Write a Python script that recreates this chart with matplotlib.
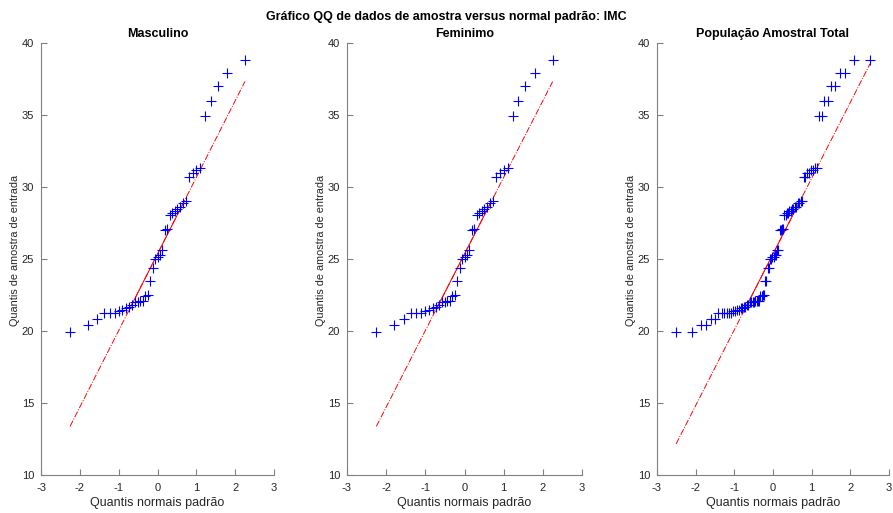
import numpy as np
import matplotlib
matplotlib.use('Agg')
import matplotlib.pyplot as plt
from statistics import NormalDist

## DATA (IMC, sorted sample values)

imc_masculino = [19.9, 20.4, 20.8, 21.25, 21.25, 21.25, 21.4, 21.45, 21.6, 21.65,
                 21.8, 22.0, 22.0, 22.05, 22.1, 22.4, 22.5, 23.5, 24.35, 25.0,
                 25.15, 25.3, 25.65, 27.0, 27.1, 28.05, 28.2, 28.3, 28.45, 28.6,
                 28.9, 29.05, 30.7, 31.0, 31.2, 31.35, 34.9, 36.0, 37.0, 37.9, 38.8]
imc_feminino = [19.9, 20.4, 20.8, 21.25, 21.25, 21.25, 21.4, 21.45, 21.6, 21.65,
                21.8, 22.0, 22.0, 22.05, 22.1, 22.4, 22.5, 23.5, 24.35, 25.0,
                25.15, 25.3, 25.65, 27.0, 27.1, 28.05, 28.2, 28.3, 28.45, 28.6,
                28.9, 29.05, 30.7, 31.0, 31.2, 31.35, 34.9, 36.0, 37.0, 37.9, 38.8]
imc_total = imc_masculino + imc_feminino

titulos = ['Masculino', 'Feminimo', 'População Amostral Total']
suptitulo = 'Gráfico QQ de dados de amostra versus normal padrão: IMC'
xlabel = 'Quantis normais padrão'
ylabel = 'Quantis de amostra de entrada'

plt.rcParams['font.family'] = ['Liberation Sans', 'DejaVu Sans']
plt.rcParams['axes.unicode_minus'] = False

TXT = '#262626'
AX = '#808080'


def qq_plot(ax, sample, title):
    """MATLAB-style qqplot: sorted data vs standard normal quantiles + quartile line."""
    y = np.sort(np.asarray(sample, dtype=float))
    n = len(y)
    nd = NormalDist()
    x = np.array([nd.inv_cdf((i - 0.5) / n) for i in range(1, n + 1)])

    # line through first and third quartiles
    q1, q3 = np.percentile(y, [25, 75], method='hazen')
    x1, x3 = nd.inv_cdf(0.25), nd.inv_cdf(0.75)
    slope = (q3 - q1) / (x3 - x1)
    xe = np.array([x[0], x[-1]])
    ax.plot(xe, q1 + slope * (xe - x1), color='red', ls='-.', lw=0.7, zorder=1)
    xs = np.array([x1, x3])
    ax.plot(xs, q1 + slope * (xs - x1), color='red', ls='-', lw=0.7, zorder=1)

    ax.plot(x, y, '+', color='blue', ms=7, mew=0.8, zorder=2)

    # appearance
    ax.set_xlim(-3, 3)
    ax.set_ylim(10, 40)
    ax.set_xticks(range(-3, 4))
    ax.set_yticks(range(10, 41, 5))
    for s in ['top', 'right']:
        ax.spines[s].set_visible(False)
    for s in ['left', 'bottom']:
        ax.spines[s].set_color(AX)
        ax.spines[s].set_linewidth(0.8)
    ax.tick_params(direction='in', length=4, width=0.8, color=AX,
                   labelsize=8, labelcolor=TXT)
    ax.tick_params(axis='x', pad=6)
    ax.tick_params(axis='y', pad=5)
    ax.set_title(title, fontsize=9, fontweight='bold', color='black', pad=4)
    ax.set_xlabel(xlabel, fontsize=9, color=TXT)
    ax.set_ylabel(ylabel, fontsize=7.8, color=TXT)
    w = ax.get_position().width * 893
    ax.xaxis.set_label_coords(0.5, -22 / 432)
    ax.yaxis.set_label_coords(-21 / w, 0.52)


fig = plt.figure(figsize=(8.93, 5.13), dpi=100)
lefts = [41, 347, 657]
widths = [233, 235, 232]
axes = [fig.add_axes([l / 893, 38 / 513, w / 893, 432 / 513]) for l, w in zip(lefts, widths)]

for ax, data, t in zip(axes, [imc_masculino, imc_feminino, imc_total], titulos):
    qq_plot(ax, data, t)

fig.text(0.5, 1 - 17 / 513, suptitulo, ha='center', va='center',
         fontsize=9, fontweight='bold', color='black')

fig.savefig('out.png', dpi=100)
